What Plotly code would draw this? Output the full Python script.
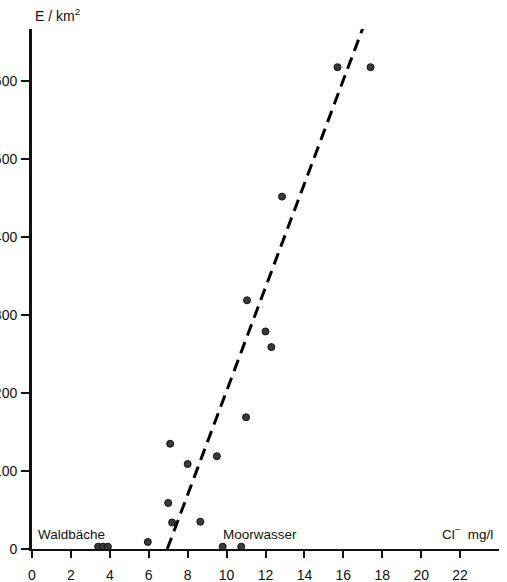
import plotly.graph_objects as go

# Chloride concentration (mg/l) vs. population density (E/km²)
cl_mg_l = [3.4, 3.65, 3.9, 5.95, 7.0, 7.2, 7.1, 8.0, 8.65, 9.5, 9.8, 10.75,
           11.0, 11.05, 12.0, 12.3, 12.85, 15.7, 17.4]
e_km2 = [3, 3, 3, 9, 59, 34, 135, 109, 35, 119, 3, 3,
         169, 319, 279, 259, 452, 618, 618]

# Regression line end points
fit_x = [6.95, 17.0]
fit_y = [0, 668]

x_ticks = [0, 2, 4, 6, 8, 10, 12, 14, 16, 18, 20, 22]
y_ticks = [0, 100, 200, 300, 400, 500, 600]

font = dict(family="Liberation Sans, Arial, sans-serif", size=13.5, color="#111")

fig = go.Figure()
fig.add_trace(go.Scatter(
    x=fit_x, y=fit_y, mode="lines",
    line=dict(color="#000", width=3, dash="12px,7px"),
    hoverinfo="skip", showlegend=False, cliponaxis=False,
))
fig.add_trace(go.Scatter(
    x=cl_mg_l, y=e_km2, mode="markers",
    marker=dict(size=7, color="#3a3a3a", line=dict(color="#111", width=1)),
    showlegend=False, cliponaxis=False,
))

fig.update_layout(
    width=507, height=582,
    margin=dict(l=32, r=8, t=29, b=33),
    paper_bgcolor="white", plot_bgcolor="white",
    font=font,
    xaxis=dict(
        range=[0, 24], tickvals=x_ticks, ticktext=[str(v) for v in x_ticks],
        showgrid=False, zeroline=False, automargin=False,
        showline=True, linecolor="#111", linewidth=2,
        ticks="outside", ticklen=7, tickwidth=2, tickcolor="#111",
        ticklabelstandoff=5, tickfont=dict(size=14),
    ),
    yaxis=dict(
        range=[0, 667], tickvals=y_ticks, ticktext=[str(v) for v in y_ticks],
        showgrid=False, zeroline=False, automargin=False,
        showline=True, linecolor="#111", linewidth=3,
        ticks="outside", ticklen=8, tickwidth=2, tickcolor="#111",
        ticklabelstandoff=1, tickfont=dict(size=14),
    ),
    annotations=[
        dict(text="E / km<sup>2</sup>", x=0, xref="paper", y=1, yref="paper",
             xanchor="left", yanchor="bottom", xshift=1, yshift=3,
             showarrow=False, font=dict(size=14)),
        dict(text="Waldbäche", x=0.2, xref="x", y=6, yref="y",
             xanchor="left", yanchor="bottom", showarrow=False),
        dict(text="Moorwasser", x=9.7, xref="x", y=6, yref="y",
             xanchor="left", yanchor="bottom", showarrow=False),
        dict(text="Cl<sup>−</sup>  mg/l", x=23.8, xref="x", y=6, yref="y",
             xanchor="right", yanchor="bottom", showarrow=False),
    ],
)

fig.write_html("out.html")
